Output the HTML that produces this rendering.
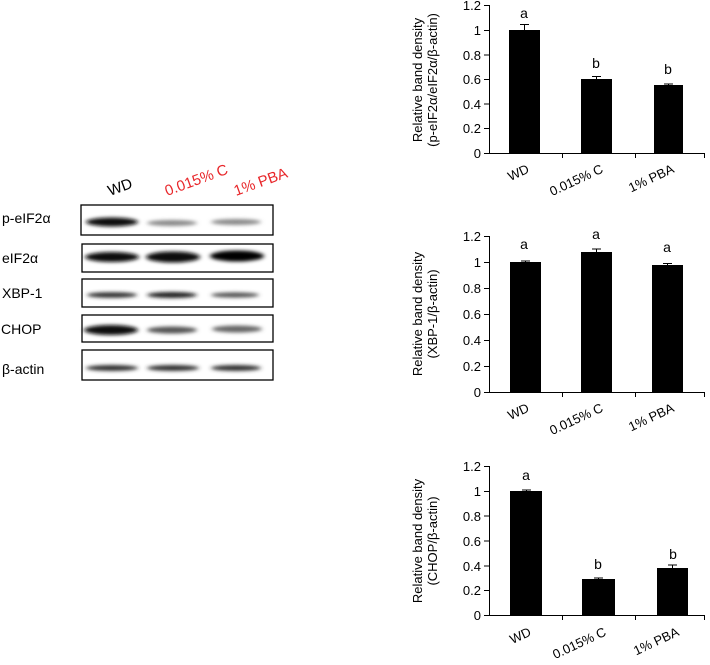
<!DOCTYPE html>
<html><head><meta charset="utf-8"><style>
html,body{margin:0;padding:0;background:#fff}
svg{display:block;font-family:"Liberation Sans",Arial,sans-serif}
</style></head><body>
<svg width="710" height="665" viewBox="0 0 710 665" xmlns="http://www.w3.org/2000/svg">
<defs>
<filter id="bl" x="-30%" y="-100%" width="160%" height="300%"><feGaussianBlur stdDeviation="2.5 1.8"/></filter>
</defs>
<g font-size="14" fill="#000">
<text x="2" y="223">p-eIF2α</text>
<text x="2" y="263">eIF2α</text>
<text x="2" y="298">XBP-1</text>
<text x="1" y="334">CHOP</text>
<text x="2" y="374">β-actin</text>
</g>
<g font-size="15">
<text transform="translate(110,196) rotate(-20)" fill="#000">WD</text>
<text transform="translate(167,196) rotate(-20)" fill="#e8262a">0.015% C</text>
<text transform="translate(236,196) rotate(-20)" fill="#e8262a">1% PBA</text>
</g>
<g fill="#fff" stroke="#000" stroke-width="1.3">
<rect x="81" y="205" width="192" height="30"/>
<rect x="82" y="244" width="191" height="28"/>
<rect x="82" y="279" width="191" height="28"/>
<rect x="82" y="315" width="191" height="27"/>
<rect x="82" y="350" width="191" height="30"/>
</g>
<g filter="url(#bl)">
<ellipse cx="112" cy="222" rx="26" ry="4.5" fill="#111"/>
<ellipse cx="172" cy="223" rx="25" ry="3" fill="#8a8a8a"/>
<ellipse cx="236" cy="222" rx="25" ry="3" fill="#8a8a8a"/>
<ellipse cx="112" cy="257" rx="27" ry="5" fill="#0a0a0a"/>
<ellipse cx="173" cy="257" rx="27" ry="5.5" fill="#0a0a0a"/>
<ellipse cx="237" cy="256" rx="27" ry="5.5" fill="#050505"/>
<ellipse cx="112" cy="295" rx="25" ry="2.8" fill="#333"/>
<ellipse cx="172" cy="295" rx="25" ry="3" fill="#222"/>
<ellipse cx="235" cy="295" rx="24" ry="2.6" fill="#555"/>
<ellipse cx="111" cy="330" rx="27" ry="5" fill="#0a0a0a"/>
<ellipse cx="172" cy="330" rx="25" ry="3.5" fill="#555"/>
<ellipse cx="237" cy="329" rx="25" ry="3.5" fill="#666"/>
<ellipse cx="112" cy="368" rx="26" ry="3" fill="#333"/>
<ellipse cx="173" cy="368" rx="26" ry="3" fill="#333"/>
<ellipse cx="236" cy="368" rx="25" ry="3" fill="#333"/>
</g>

<g font-size="13" fill="#000">
<g stroke="#000" stroke-width="1" fill="none">
<path d="M489.5 5 V153.5 H705"/>
<path d="M484 5.5h5M484 30.5h5M484 55h5M484 79.5h5M484 104h5M484 128.5h5M484 153.5h5"/>
<path d="M562.5 153v5M635.5 153v5M704.5 153v5"/>
</g>
<g text-anchor="end">
<text x="481" y="10">1.2</text><text x="481" y="35">1</text><text x="481" y="60">0.8</text><text x="481" y="84">0.6</text><text x="481" y="109">0.4</text><text x="481" y="133">0.2</text><text x="481" y="158">0</text>
</g>
<rect x="509" y="30" width="31" height="123.5"/>
<rect x="581" y="79" width="31" height="74.5"/>
<rect x="654" y="85" width="29" height="68.5"/>
<path d="M524.5 30V24M520 24.5h9M596.5 79v-3M592 76.5h9M668.5 85v-1.5M664 84h9" stroke="#000" fill="none"/>
<g text-anchor="middle" font-size="14"><text x="524" y="18">a</text><text x="596" y="68">b</text><text x="668" y="74">b</text></g>
<g text-anchor="middle"><text transform="translate(422,80) rotate(-90)">Relative band density</text><text transform="translate(437,80) rotate(-90)">(p-eIF2α/eIF2α/β-actin)</text></g>
<g text-anchor="end"><text transform="translate(530,172) rotate(-25)">WD</text><text transform="translate(604,172) rotate(-25)">0.015% C</text><text transform="translate(675,172) rotate(-25)">1% PBA</text></g>
</g>

<g font-size="13" fill="#000">
<g stroke="#000" stroke-width="1" fill="none">
<path d="M489.5 236 V392.5 H705"/>
<path d="M484 236.5h5M484 262.5h5M484 288.5h5M484 314.5h5M484 340.5h5M484 366.5h5M484 392.5h5"/>
<path d="M562.5 392v5M635.5 392v5M704.5 392v5"/>
</g>
<g text-anchor="end">
<text x="481" y="241">1.2</text><text x="481" y="267">1</text><text x="481" y="293">0.8</text><text x="481" y="319">0.6</text><text x="481" y="345">0.4</text><text x="481" y="371">0.2</text><text x="481" y="397">0</text>
</g>
<rect x="510" y="262" width="31" height="130.5"/>
<rect x="581" y="252" width="31" height="140.5"/>
<rect x="652" y="265" width="31" height="127.5"/>
<path d="M525.5 262v-1.5M521 261h9M596.5 252v-3M592 249h9M667.5 265v-2M663 263.5h9" stroke="#000" fill="none"/>
<g text-anchor="middle" font-size="14"><text x="524" y="249">a</text><text x="596" y="239">a</text><text x="667" y="252">a</text></g>
<g text-anchor="middle"><text transform="translate(422,314) rotate(-90)">Relative band density</text><text transform="translate(437,314) rotate(-90)">(XBP-1/β-actin)</text></g>
<g text-anchor="end"><text transform="translate(530,411) rotate(-25)">WD</text><text transform="translate(604,411) rotate(-25)">0.015% C</text><text transform="translate(675,411) rotate(-25)">1% PBA</text></g>
</g>

<g font-size="13" fill="#000">
<g stroke="#000" stroke-width="1" fill="none">
<path d="M489.5 466 V615.5 H705"/>
<path d="M484 466.5h5M484 491.5h5M484 516h5M484 541h5M484 566h5M484 590.5h5M484 615.5h5"/>
<path d="M562.5 615v5M635.5 615v5M704.5 615v5"/>
</g>
<g text-anchor="end">
<text x="481" y="471">1.2</text><text x="481" y="496">1</text><text x="481" y="521">0.8</text><text x="481" y="546">0.6</text><text x="481" y="571">0.4</text><text x="481" y="595">0.2</text><text x="481" y="620">0</text>
</g>
<rect x="510" y="491" width="32" height="124.5"/>
<rect x="582" y="579" width="33" height="36.5"/>
<rect x="657" y="568" width="31" height="47.5"/>
<path d="M526.5 491v-1.5M522 490h9M598.5 579v-1.5M594 578h9M672.5 568v-3M668 565h9" stroke="#000" fill="none"/>
<g text-anchor="middle" font-size="14"><text x="526" y="480">a</text><text x="598" y="569">b</text><text x="673" y="559">b</text></g>
<g text-anchor="middle"><text transform="translate(422,541) rotate(-90)">Relative band density</text><text transform="translate(437,541) rotate(-90)">(CHOP/β-actin)</text></g>
<g text-anchor="end"><text transform="translate(532,635) rotate(-25)">WD</text><text transform="translate(607,635) rotate(-25)">0.015% C</text><text transform="translate(680,635) rotate(-25)">1% PBA</text></g>
</g>
</svg>
</body></html>
